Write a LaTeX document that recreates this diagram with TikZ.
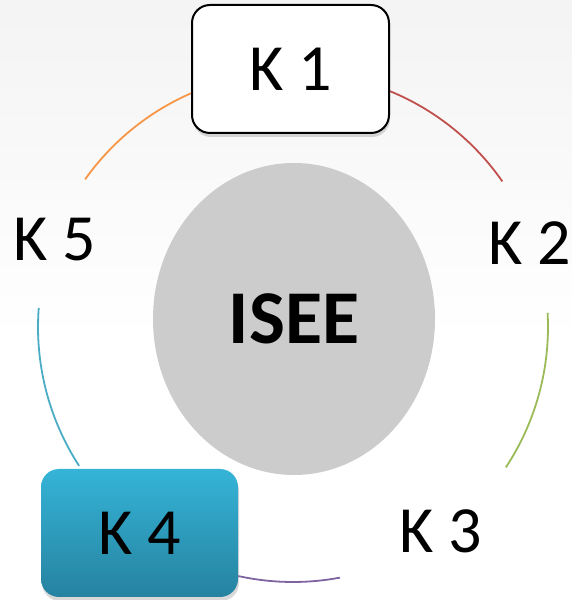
\documentclass[tikz,border=0pt]{standalone}
\usepackage{fontspec}
\setmainfont{Carlito}
\usetikzlibrary{shapes.geometric,shadows}
\definecolor{ringorange}{HTML}{F79646}
\definecolor{ringred}{HTML}{C0504D}
\definecolor{ringgreen}{HTML}{9BBB59}
\definecolor{ringpurple}{HTML}{8064A2}
\definecolor{ringcyan}{HTML}{4BACC6}
\definecolor{boxtop}{HTML}{35B4D7}
\definecolor{boxbottom}{HTML}{2682A0}
\definecolor{coregray}{HTML}{CCCCCC}
\begin{document}
\begin{tikzpicture}[x=0.5pt, y=0.5pt,
  kfont/.style={font=\fontsize{33}{38}\selectfont},
  kbox/.style={kfont, rounded corners=9pt, minimum width=98.5pt, minimum height=64pt, inner sep=0pt,
    drop shadow={opacity=0.3, shadow xshift=0.5pt, shadow yshift=-2pt}},
  klabel/.style={kfont, inner sep=0pt},
  ring/.style={line width=0.9pt}]
\useasboundingbox (0,0) rectangle (572,600);
% background
\shade[top color=gray!9, bottom color=white] (0,600) rectangle (572,260);

% ring
\coordinate (c) at (293,273);
\draw[ring, ringorange] ([shift={(144.6:127.5pt)}]c) arc[start angle=144.6, end angle=113.5, radius=127.5pt];
\draw[ring, ringred] ([shift={(67.7:127.5pt)}]c) arc[start angle=67.7, end angle=34.8, radius=127.5pt];
\draw[ring, ringgreen] ([shift={(3.2:127.5pt)}]c) arc[start angle=3.2, end angle=-33.4, radius=127.5pt];
\draw[ring, ringpurple] ([shift={(-79.4:127.5pt)}]c) arc[start angle=-79.4, end angle=-102.4, radius=127.5pt];
\draw[ring, ringcyan] ([shift={(213:127.5pt)}]c) arc[start angle=213, end angle=175.7, radius=127.5pt];

% centre
\node[ellipse, fill=coregray, minimum width=141pt, minimum height=156pt, inner sep=0pt,
  font=\fontsize{38}{44}\selectfont\bfseries] (isee) at (294,281) {ISEE};

% K nodes
\node[kbox, draw=black, line width=1pt, fill=white] (k1) at (290.5,531) {K 1};
\node[klabel] (k2) at (530,357) {K 2};
\node[klabel] (k3) at (441,69) {K 3};
\node[kbox, top color=boxtop, bottom color=boxbottom] (k4) at (139.5,67) {K 4};
\node[klabel] (k5) at (55,360) {K 5};
\end{tikzpicture}
\end{document}
